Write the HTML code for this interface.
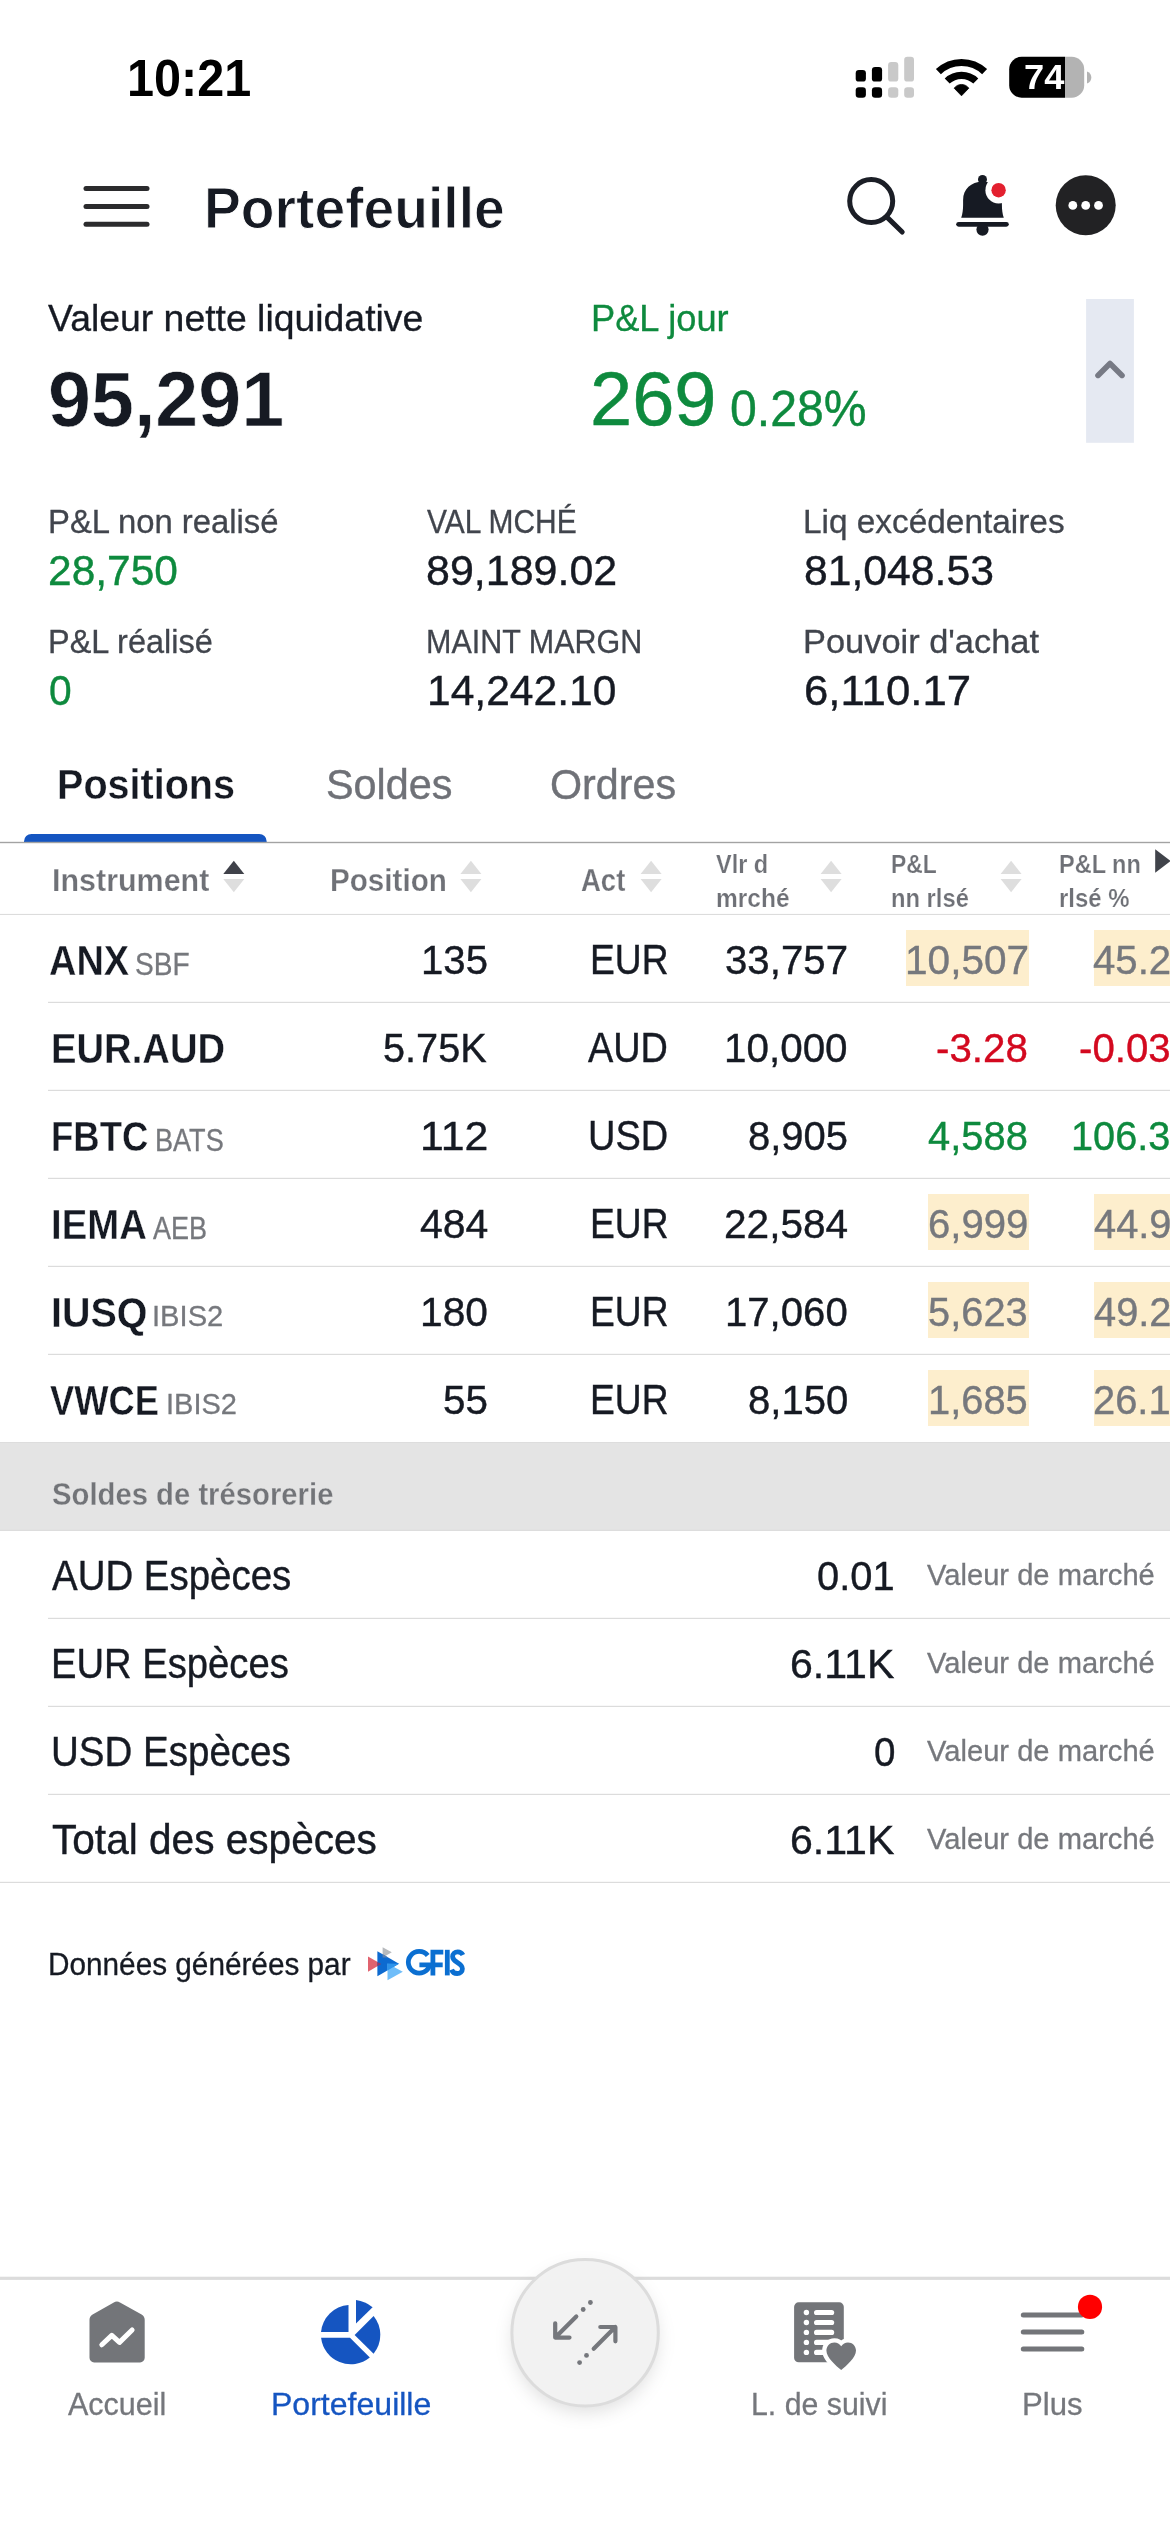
<!DOCTYPE html>
<html lang="fr">
<head>
<meta charset="utf-8">
<title>Portefeuille</title>
<style>
html,body{margin:0;padding:0;}
body{width:1170px;height:2532px;position:relative;overflow:hidden;background:#fff;font-family:"Liberation Sans",sans-serif;}
#g{position:absolute;left:0;top:0;width:1170px;height:2532px;}
.t{position:absolute;white-space:nowrap;line-height:1;transform-origin:0 0;display:block;}
.hl{position:absolute;background:#fdeecd;}
#clip{position:absolute;left:0;top:0;width:1170px;height:2532px;overflow:hidden;}
</style>
</head>
<body>
<div id="clip">
<div class="hl" style="left:906.2px;top:930.0px;width:122.6px;height:56.0px"></div>
<div class="hl" style="left:1093.7px;top:930.0px;width:76.3px;height:56.0px"></div>
<div class="hl" style="left:928.3px;top:1194.0px;width:100.5px;height:56.0px"></div>
<div class="hl" style="left:1093.7px;top:1194.0px;width:76.3px;height:56.0px"></div>
<div class="hl" style="left:928.3px;top:1282.0px;width:100.5px;height:56.0px"></div>
<div class="hl" style="left:1093.7px;top:1282.0px;width:76.3px;height:56.0px"></div>
<div class="hl" style="left:928.3px;top:1370.0px;width:100.5px;height:56.0px"></div>
<div class="hl" style="left:1093.7px;top:1370.0px;width:76.3px;height:56.0px"></div>
<svg id="g" width="1170" height="2532" viewBox="0 0 1170 2532">
  <!-- ===== status bar ===== -->
  <g id="signal">
    <rect x="855.7" y="70" width="10.2" height="11.6" rx="3.2" fill="#000"/>
    <rect x="871.9" y="67" width="10.2" height="14.6" rx="3.2" fill="#000"/>
    <rect x="888.1" y="62" width="10.2" height="19.6" rx="3.2" fill="#c9c9c9"/>
    <rect x="904.2" y="56.8" width="9.8" height="24.8" rx="3.2" fill="#c9c9c9"/>
    <rect x="855.7" y="87.3" width="10.2" height="10.4" rx="3.2" fill="#000"/>
    <rect x="871.9" y="87.3" width="10.2" height="10.4" rx="3.2" fill="#000"/>
    <rect x="888.1" y="87.3" width="10.2" height="10.4" rx="3.2" fill="#c9c9c9"/>
    <rect x="904.2" y="87.3" width="9.8" height="10.4" rx="3.2" fill="#c9c9c9"/>
  </g>
  <g id="wifi" fill="none" stroke="#000" stroke-width="7.2">
    <path d="M938.4 71.7 A33.6 33.6 0 0 1 984.6 71.7"/>
    <path d="M947.2 81 A20.8 20.8 0 0 1 975.8 81"/>
  </g>
  <path d="M961.5 95.8 L954.2 88.2 A9 9 0 0 1 968.8 88.2 Z" fill="#000" stroke="#000" stroke-width="0.8" stroke-linejoin="round"/>
  <g id="battery">
    <clipPath id="bc"><rect x="1009.2" y="56.8" width="75" height="40.9" rx="12.5"/></clipPath>
    <g clip-path="url(#bc)">
      <rect x="1009" y="56" width="56" height="43" fill="#000"/>
      <rect x="1065" y="56" width="20" height="43" fill="#b3b3b3"/>
    </g>
    <path d="M1087 71.4 C1090.2 72.4 1091.3 75 1091.3 77.4 C1091.3 79.8 1090.2 82.4 1087 83.4 Z" fill="#b3b3b3"/>
  </g>
  <!-- ===== header ===== -->
  <g stroke="#2b2b2d" stroke-width="5" stroke-linecap="round">
    <line x1="86" y1="188.6" x2="147" y2="188.6"/>
    <line x1="86" y1="206.5" x2="147" y2="206.5"/>
    <line x1="86" y1="224.2" x2="147" y2="224.2"/>
  </g>
  <g id="search" fill="none" stroke="#1b1e26" stroke-width="5" stroke-linecap="round">
    <circle cx="871.2" cy="201.1" r="21.5"/>
    <line x1="887.2" y1="217.4" x2="902.2" y2="232"/>
  </g>
  <g id="bell" fill="#161a23">
    <circle cx="982.5" cy="179.4" r="4.5"/>
    <path d="M961.2 217.8 C962.5 214 963.1 210 963.1 205 V200 C963.1 189 971 181.7 982.5 181.7 C994 181.7 1001.9 189 1001.9 200 V205 C1001.9 210 1002.5 214 1003.8 217.8 Z"/>
    <rect x="956.2" y="221.9" width="52.6" height="4.9" rx="2.45"/>
    <circle cx="982.5" cy="229.6" r="6.1"/>
  </g>
  <circle cx="998.6" cy="190.2" r="13.2" fill="#fff"/>
  <circle cx="998.6" cy="190.2" r="7.2" fill="#e3202f"/>
  <g id="more">
    <circle cx="1085.7" cy="205.3" r="30" fill="#222224"/>
    <circle cx="1072.8" cy="205.4" r="4.4" fill="#fff"/>
    <circle cx="1085.7" cy="205.4" r="4.4" fill="#fff"/>
    <circle cx="1098.5" cy="205.4" r="4.4" fill="#fff"/>
  </g>
  <!-- collapse -->
  <rect x="1086.1" y="299" width="47.8" height="143.8" fill="#e5e9f2"/>
  <path d="M1098 375.4 L1110 363.4 L1122 375.4" fill="none" stroke="#777a85" stroke-width="5.6" stroke-linecap="round" stroke-linejoin="round"/>
  <!-- ===== tabs ===== -->
  <path d="M24 842 V841.4 A7.5 7.5 0 0 1 31.5 833.9 H259.2 A7.5 7.5 0 0 1 266.7 841.4 V842 Z" fill="#1555c1"/>
  <rect x="0" y="841.8" width="1170" height="1.4" fill="#a3a3a3"/>
  <rect x="0" y="913.9" width="1170" height="1.1" fill="#dcdcdc"/>
  <!-- sort arrows -->
  <g id="sorts">
    <path d="M223.3 874 L233.8 860.7 L244.3 874 Z" fill="#40424a"/>
    <path d="M223.3 879 L233.8 892.3 L244.3 879 Z" fill="#dedede"/>
    <path d="M460.4 874 L470.9 860.7 L481.4 874 Z" fill="#dedede"/>
    <path d="M460.4 879 L470.9 892.3 L481.4 879 Z" fill="#dedede"/>
    <path d="M640.6 874 L651.1 860.7 L661.6 874 Z" fill="#dedede"/>
    <path d="M640.6 879 L651.1 892.3 L661.6 879 Z" fill="#dedede"/>
    <path d="M820.6 874 L831.1 860.7 L841.6 874 Z" fill="#dedede"/>
    <path d="M820.6 879 L831.1 892.3 L841.6 879 Z" fill="#dedede"/>
    <path d="M1000.6 874 L1011.1 860.7 L1021.6 874 Z" fill="#dedede"/>
    <path d="M1000.6 879 L1011.1 892.3 L1021.6 879 Z" fill="#dedede"/>
    <path d="M1155.2 849.2 L1170.6 861 L1155.2 872.8 Z" fill="#40434a"/>
  </g>
  <!-- row lines -->
  <g fill="#dcdcdc">
    <rect x="48" y="1001.8" width="1122" height="1.2"/>
    <rect x="48" y="1089.8" width="1122" height="1.2"/>
    <rect x="48" y="1177.8" width="1122" height="1.2"/>
    <rect x="48" y="1265.8" width="1122" height="1.2"/>
    <rect x="48" y="1353.8" width="1122" height="1.2"/>
  </g>
  <!-- cash section -->
  <rect x="0" y="1442" width="1170" height="88.6" fill="#e4e4e4"/>
  <rect x="0" y="1442" width="1170" height="1" fill="#dddddd"/>
  <rect x="0" y="1529.8" width="1170" height="1" fill="#d9d9d9"/>
  <g fill="#dcdcdc">
    <rect x="48" y="1617.8" width="1122" height="1.2"/>
    <rect x="48" y="1705.8" width="1122" height="1.2"/>
    <rect x="48" y="1793.8" width="1122" height="1.2"/>
    <rect x="0" y="1881.8" width="1170" height="1.2"/>
  </g>
  <!-- GFIS logo -->
  <g id="gfis">
    <path d="M382.6 1947.3 L391.8 1952.3 L382.6 1957.4 Z" fill="#b7babd"/>
    <path d="M368 1956.5 L381.2 1964.1 L368 1971.8 Z" fill="#e0636f"/>
    <path d="M377.4 1951.3 L399 1963.7 L377.4 1976.2 Z" fill="#0d6ad0"/>
    <path d="M377.4 1961.9 L381.2 1964.1 L377.4 1966.3 Z" fill="#8a3a6c"/>
    <path d="M382.6 1954.3 L388.2 1957.5 L382.6 1957.4 Z" fill="#5a7fae"/>
    <path d="M387.5 1963.5 L402.8 1971.8 L387.5 1980.2 Z" fill="#6fbdf9"/>
    <path d="M387.5 1963.6 L399 1963.7 L387.5 1970.4 Z" fill="#2f93ea"/>
    <g fill="none" stroke="#0b6fd1" stroke-width="4.8">
      <path d="M427.7 1955.6 A10.85 10.85 0 1 0 429.7 1964.9 H419.4"/>
      <path d="M432.9 1975.4 V1952.1 H443.3 M432.9 1964.8 H442.7"/>
      <path d="M447.3 1949.8 V1975.4"/>
      <path d="M462.9 1955 C461.8 1952.8 459.9 1951.8 457.7 1951.8 C454.7 1951.8 452.6 1953.8 452.6 1956.5 C452.6 1959 454.2 1960.6 457.2 1962.4 C460.6 1964.4 462.4 1966 462.4 1968.8 C462.4 1971.7 460.2 1973.5 457.2 1973.5 C454.5 1973.5 452.5 1972.2 451.6 1969.6"/>
    </g>
  </g>
  <!-- ===== bottom nav ===== -->
  <rect x="0" y="2276.7" width="1170" height="3.2" fill="#dcdcdc"/>
  <!-- accueil -->
  <path d="M116.9 2301.6 C118 2301.6 119 2301.9 120 2302.5 L141.6 2314.6 C143.6 2315.8 144.7 2317.6 144.7 2319.8 V2357.8 A4.6 4.6 0 0 1 140.1 2362.4 H94.1 A4.6 4.6 0 0 1 89.5 2357.8 V2319.8 C89.5 2317.6 90.6 2315.8 92.6 2314.6 L113.8 2302.5 C114.8 2301.9 115.8 2301.6 116.9 2301.6 Z" fill="#737579"/>
  <path d="M101.8 2344.8 L111.8 2335.4 L119.5 2342.4 L132.1 2330" fill="none" stroke="#fff" stroke-width="5" stroke-linecap="round" stroke-linejoin="round"/>
  <!-- pie -->
  <g fill="#1555c1">
    <path d="M321 2332.1 A30 30 0 0 1 348.5 2304.9 V2332.1 Z"/>
    <path d="M356 2323.6 V2300 A32 32 0 0 1 372.6 2307.2 Z"/>
    <path d="M354.6 2334.9 L373.6 2315.9 A30 30 0 0 1 373.6 2353.7 Z"/>
    <path d="M321.1 2337.7 H350 L369.8 2357.6 A30 30 0 0 1 321.1 2337.7 Z"/>
  </g>
  <!-- center button -->
  <defs>
    <filter id="sh" x="-30%" y="-30%" width="160%" height="170%"><feGaussianBlur stdDeviation="9"/></filter>
  </defs>
  <circle cx="585.1" cy="2340" r="72" fill="#000" fill-opacity="0.13" filter="url(#sh)"/>
  <circle cx="585.1" cy="2332.8" r="73.2" fill="#f2f2f2" stroke="#dcdcdc" stroke-width="3"/>
  <g fill="none" stroke="#75777c" stroke-width="4.2" stroke-linecap="round" stroke-linejoin="round">
    <path d="M576.3 2316.4 L555.3 2337.5 M555.2 2323.3 V2337.6 H569.5"/>
    <path d="M593.7 2348.7 L615.3 2327.1 M600.3 2327 H615.4 V2341.3"/>
  </g>
  <g fill="#75777c">
    <circle cx="583.2" cy="2309.5" r="2.4"/><circle cx="590.4" cy="2302.5" r="2.4"/>
    <circle cx="586.5" cy="2355.4" r="2.4"/><circle cx="579.6" cy="2362.6" r="2.4"/>
  </g>
  <!-- watchlist -->
  <rect x="794.1" y="2302.3" width="49.7" height="60" rx="4.6" fill="#737579"/>
  <g fill="#fff">
    <circle cx="806.4" cy="2312.5" r="2.7"/><circle cx="806.4" cy="2322.5" r="2.7"/><circle cx="806.4" cy="2332.4" r="2.7"/><circle cx="806.4" cy="2342.4" r="2.7"/><circle cx="806.4" cy="2352.4" r="2.7"/>
    <rect x="814" y="2309.9" width="20.2" height="5.2" rx="2.6"/>
    <rect x="814" y="2319.9" width="20.2" height="5.2" rx="2.6"/>
    <rect x="814" y="2329.8" width="20.2" height="5.2" rx="2.6"/>
    <rect x="814" y="2339.8" width="20.2" height="5.2" rx="2.6"/>
    <rect x="814" y="2349.8" width="20.2" height="5.2" rx="2.6"/>
  </g>
  <path id="heart" d="M841.2 2370 C836 2366 826.4 2357.6 826.4 2350.6 C826.4 2345.8 830 2342.4 834.4 2342.4 C837.2 2342.4 839.6 2343.8 841.2 2346.2 C842.8 2343.8 845.2 2342.4 848 2342.4 C852.4 2342.4 856 2345.8 856 2350.6 C856 2357.6 846.4 2366 841.2 2370 Z" fill="#737579" stroke="#fff" stroke-width="8.5" paint-order="stroke" stroke-linejoin="round"/>
  <!-- plus -->
  <g stroke="#737579" stroke-width="5" stroke-linecap="round">
    <line x1="1023.3" y1="2314.9" x2="1081.8" y2="2314.9"/>
    <line x1="1023.3" y1="2332" x2="1081.8" y2="2332"/>
    <line x1="1023.3" y1="2349" x2="1081.8" y2="2349"/>
  </g>
  <circle cx="1090" cy="2306.9" r="12.1" fill="#ff0000"/>
</svg>
<span class="t" style="left:126.87px;top:52.72px;font-size:51.69px;font-weight:700;color:#000;transform:scaleX(0.9396)">10:21</span>
<span class="t" style="left:1023.85px;top:59.80px;font-size:34.79px;font-weight:700;color:#fff;transform:scaleX(1.0417)">74</span>
<span class="t" style="left:204.40px;top:179.20px;font-size:58.00px;font-weight:700;color:#161a23;-webkit-text-stroke:1.00px #fff;transform:scaleX(0.9520)">Portefeuille</span>
<span class="t" style="left:48.34px;top:300.79px;font-size:36.81px;font-weight:400;color:#161a23;-webkit-text-stroke:0.30px #161a23;transform:scaleX(1.0155)">Valeur nette liquidative</span>
<span class="t" style="left:48.40px;top:359.67px;font-size:78.03px;font-weight:700;color:#161a23;-webkit-text-stroke:0.60px #fff;transform:scaleX(0.9899)">95,291</span>
<span class="t" style="left:590.98px;top:300.79px;font-size:36.81px;font-weight:400;color:#0e8a3e;-webkit-text-stroke:0.30px #0e8a3e;transform:scaleX(0.9851)">P&amp;L jour</span>
<span class="t" style="left:589.91px;top:360.92px;font-size:76.34px;font-weight:400;color:#0e8a3e;-webkit-text-stroke:0.50px #0e8a3e;transform:scaleX(0.9931)">269</span>
<span class="t" style="left:729.75px;top:384.47px;font-size:49.44px;font-weight:400;color:#0e8a3e;-webkit-text-stroke:0.40px #0e8a3e;transform:scaleX(0.9749)">0.28%</span>
<span class="t" style="left:47.83px;top:505.67px;font-size:32.46px;font-weight:400;color:#41454d;-webkit-text-stroke:0.30px #41454d;transform:scaleX(1.0113)">P&amp;L non realisé</span>
<span class="t" style="left:48.22px;top:549.04px;font-size:43.38px;font-weight:400;color:#0e8a3e;-webkit-text-stroke:0.40px #0e8a3e;transform:scaleX(0.9796)">28,750</span>
<span class="t" style="left:47.73px;top:625.50px;font-size:32.61px;font-weight:400;color:#41454d;-webkit-text-stroke:0.30px #41454d;transform:scaleX(0.9948)">P&amp;L réalisé</span>
<span class="t" style="left:48.78px;top:669.04px;font-size:43.38px;font-weight:400;color:#0e8a3e;-webkit-text-stroke:0.40px #0e8a3e;transform:scaleX(0.9409)">0</span>
<span class="t" style="left:426.77px;top:505.67px;font-size:32.46px;font-weight:400;color:#41454d;-webkit-text-stroke:0.30px #41454d;transform:scaleX(0.9224)">VAL MCHÉ</span>
<span class="t" style="left:425.83px;top:549.04px;font-size:43.38px;font-weight:400;color:#161a23;-webkit-text-stroke:0.40px #161a23;transform:scaleX(0.9910)">89,189.02</span>
<span class="t" style="left:425.64px;top:625.50px;font-size:32.61px;font-weight:400;color:#41454d;-webkit-text-stroke:0.30px #41454d;transform:scaleX(0.9348)">MAINT MARGN</span>
<span class="t" style="left:427.25px;top:669.04px;font-size:43.38px;font-weight:400;color:#161a23;-webkit-text-stroke:0.40px #161a23;transform:scaleX(0.9815)">14,242.10</span>
<span class="t" style="left:803.33px;top:505.67px;font-size:32.46px;font-weight:400;color:#41454d;-webkit-text-stroke:0.30px #41454d;transform:scaleX(1.0283)">Liq excédentaires</span>
<span class="t" style="left:804.29px;top:549.04px;font-size:43.38px;font-weight:400;color:#161a23;-webkit-text-stroke:0.40px #161a23;transform:scaleX(0.9843)">81,048.53</span>
<span class="t" style="left:803.25px;top:625.50px;font-size:32.61px;font-weight:400;color:#41454d;-webkit-text-stroke:0.30px #41454d;transform:scaleX(1.0546)">Pouvoir d&#x27;achat</span>
<span class="t" style="left:803.92px;top:669.04px;font-size:43.38px;font-weight:400;color:#161a23;-webkit-text-stroke:0.40px #161a23;transform:scaleX(1.0092)">6,110.17</span>
<span class="t" style="left:56.85px;top:762.57px;font-size:42.80px;font-weight:700;color:#161a23;-webkit-text-stroke:0.36px #fff;transform:scaleX(0.9243)">Positions</span>
<span class="t" style="left:325.92px;top:763.68px;font-size:42.32px;font-weight:400;color:#6f7177;-webkit-text-stroke:0.40px #6f7177;transform:scaleX(0.9771)">Soldes</span>
<span class="t" style="left:550.05px;top:763.68px;font-size:42.32px;font-weight:400;color:#6f7177;-webkit-text-stroke:0.40px #6f7177;transform:scaleX(0.9757)">Ordres</span>
<span class="t" style="left:51.57px;top:864.98px;font-size:30.50px;font-weight:700;color:#6f7177;-webkit-text-stroke:0.25px #fff;transform:scaleX(0.9983)">Instrument</span>
<span class="t" style="left:329.92px;top:864.98px;font-size:30.50px;font-weight:700;color:#6f7177;-webkit-text-stroke:0.25px #fff;transform:scaleX(0.9716)">Position</span>
<span class="t" style="left:580.62px;top:864.98px;font-size:30.50px;font-weight:700;color:#6f7177;-webkit-text-stroke:0.25px #fff;transform:scaleX(0.9017)">Act</span>
<span class="t" style="left:716.09px;top:852.09px;font-size:25.59px;font-weight:700;color:#6f7177;-webkit-text-stroke:0.21px #fff;transform:scaleX(0.9167)">Vlr d</span>
<span class="t" style="left:716.10px;top:886.09px;font-size:25.59px;font-weight:700;color:#6f7177;-webkit-text-stroke:0.21px #fff;transform:scaleX(0.9580)">mrché</span>
<span class="t" style="left:890.93px;top:852.09px;font-size:25.59px;font-weight:700;color:#6f7177;-webkit-text-stroke:0.21px #fff;transform:scaleX(0.8940)">P&amp;L</span>
<span class="t" style="left:890.79px;top:886.09px;font-size:25.59px;font-weight:700;color:#6f7177;-webkit-text-stroke:0.21px #fff;transform:scaleX(0.9285)">nn rlsé</span>
<span class="t" style="left:1058.70px;top:852.09px;font-size:25.59px;font-weight:700;color:#6f7177;-webkit-text-stroke:0.21px #fff;transform:scaleX(0.9185)">P&amp;L nn</span>
<span class="t" style="left:1059.06px;top:886.09px;font-size:25.59px;font-weight:700;color:#6f7177;-webkit-text-stroke:0.21px #fff;transform:scaleX(0.9358)">rlsé %</span>
<span class="t" style="left:49.40px;top:939.97px;font-size:42.21px;font-weight:700;color:#161a23;-webkit-text-stroke:0.35px #fff;transform:scaleX(0.8997)">ANX</span>
<span class="t" style="left:135.27px;top:948.74px;font-size:30.43px;font-weight:400;color:#76787d;-webkit-text-stroke:0.30px #76787d;transform:scaleX(0.9236)">SBF</span>
<span class="t" style="left:420.51px;top:938.73px;font-size:41.55px;font-weight:400;color:#161a23;-webkit-text-stroke:0.40px #161a23;transform:scaleX(0.9665)">135</span>
<span class="t" style="left:590.32px;top:938.99px;font-size:41.59px;font-weight:400;color:#161a23;-webkit-text-stroke:0.40px #161a23;transform:scaleX(0.8944)">EUR</span>
<span class="t" style="left:725.49px;top:939.01px;font-size:41.55px;font-weight:400;color:#161a23;-webkit-text-stroke:0.40px #161a23;transform:scaleX(0.9681)">33,757</span>
<span class="t" style="left:904.74px;top:939.01px;font-size:41.55px;font-weight:400;color:#76787d;-webkit-text-stroke:0.40px #76787d;transform:scaleX(0.9768)">10,507</span>
<span class="t" style="left:1093.10px;top:939.01px;font-size:41.55px;font-weight:400;color:#76787d;-webkit-text-stroke:0.40px #76787d;transform:scaleX(0.9665)">45.2</span>
<span class="t" style="left:50.60px;top:1027.97px;font-size:42.21px;font-weight:700;color:#161a23;-webkit-text-stroke:0.35px #fff;transform:scaleX(0.9055)">EUR.AUD</span>
<span class="t" style="left:383.29px;top:1027.01px;font-size:41.55px;font-weight:400;color:#161a23;-webkit-text-stroke:0.40px #161a23;transform:scaleX(0.9549)">5.75K</span>
<span class="t" style="left:588.30px;top:1026.99px;font-size:41.59px;font-weight:400;color:#161a23;-webkit-text-stroke:0.40px #161a23;transform:scaleX(0.9109)">AUD</span>
<span class="t" style="left:724.47px;top:1026.73px;font-size:41.55px;font-weight:400;color:#161a23;-webkit-text-stroke:0.40px #161a23;transform:scaleX(0.9725)">10,000</span>
<span class="t" style="left:936.19px;top:1027.01px;font-size:41.55px;font-weight:400;color:#d3091f;-webkit-text-stroke:0.40px #d3091f;transform:scaleX(0.9701)">-3.28</span>
<span class="t" style="left:1078.99px;top:1027.01px;font-size:41.55px;font-weight:400;color:#d3091f;-webkit-text-stroke:0.40px #d3091f;transform:scaleX(0.9679)">-0.03</span>
<span class="t" style="left:50.88px;top:1115.97px;font-size:42.21px;font-weight:700;color:#161a23;-webkit-text-stroke:0.35px #fff;transform:scaleX(0.8644)">FBTC</span>
<span class="t" style="left:154.90px;top:1124.74px;font-size:30.43px;font-weight:400;color:#76787d;-webkit-text-stroke:0.30px #76787d;transform:scaleX(0.8903)">BATS</span>
<span class="t" style="left:419.73px;top:1115.01px;font-size:41.55px;font-weight:400;color:#161a23;-webkit-text-stroke:0.40px #161a23;transform:scaleX(1.0304)">112</span>
<span class="t" style="left:587.84px;top:1114.99px;font-size:41.59px;font-weight:400;color:#161a23;-webkit-text-stroke:0.40px #161a23;transform:scaleX(0.9128)">USD</span>
<span class="t" style="left:747.82px;top:1115.01px;font-size:41.55px;font-weight:400;color:#161a23;-webkit-text-stroke:0.40px #161a23;transform:scaleX(0.9616)">8,905</span>
<span class="t" style="left:928.20px;top:1115.01px;font-size:41.55px;font-weight:400;color:#0e8a3e;-webkit-text-stroke:0.40px #0e8a3e;transform:scaleX(0.9602)">4,588</span>
<span class="t" style="left:1071.29px;top:1115.01px;font-size:41.55px;font-weight:400;color:#0e8a3e;-webkit-text-stroke:0.40px #0e8a3e;transform:scaleX(0.9549)">106.3</span>
<span class="t" style="left:50.98px;top:1203.97px;font-size:42.21px;font-weight:700;color:#161a23;-webkit-text-stroke:0.35px #fff;transform:scaleX(0.9082)">IEMA</span>
<span class="t" style="left:152.88px;top:1212.74px;font-size:30.43px;font-weight:400;color:#76787d;-webkit-text-stroke:0.30px #76787d;transform:scaleX(0.8876)">AEB</span>
<span class="t" style="left:420.18px;top:1203.01px;font-size:41.55px;font-weight:400;color:#161a23;-webkit-text-stroke:0.40px #161a23;transform:scaleX(0.9866)">484</span>
<span class="t" style="left:590.32px;top:1202.99px;font-size:41.59px;font-weight:400;color:#161a23;-webkit-text-stroke:0.40px #161a23;transform:scaleX(0.8944)">EUR</span>
<span class="t" style="left:723.90px;top:1203.01px;font-size:41.55px;font-weight:400;color:#161a23;-webkit-text-stroke:0.40px #161a23;transform:scaleX(0.9771)">22,584</span>
<span class="t" style="left:928.02px;top:1202.67px;font-size:41.55px;font-weight:400;color:#76787d;-webkit-text-stroke:0.40px #76787d;transform:scaleX(0.9655)">6,999</span>
<span class="t" style="left:1094.01px;top:1203.01px;font-size:41.55px;font-weight:400;color:#76787d;-webkit-text-stroke:0.40px #76787d;transform:scaleX(0.9578)">44.9</span>
<span class="t" style="left:50.88px;top:1291.97px;font-size:42.21px;font-weight:700;color:#161a23;-webkit-text-stroke:0.35px #fff;transform:scaleX(0.9344)">IUSQ</span>
<span class="t" style="left:152.38px;top:1300.88px;font-size:29.58px;font-weight:400;color:#76787d;-webkit-text-stroke:0.30px #76787d;transform:scaleX(0.9852)">IBIS2</span>
<span class="t" style="left:420.25px;top:1291.01px;font-size:41.55px;font-weight:400;color:#161a23;-webkit-text-stroke:0.40px #161a23;transform:scaleX(0.9798)">180</span>
<span class="t" style="left:590.32px;top:1290.99px;font-size:41.59px;font-weight:400;color:#161a23;-webkit-text-stroke:0.40px #161a23;transform:scaleX(0.8944)">EUR</span>
<span class="t" style="left:725.20px;top:1291.01px;font-size:41.55px;font-weight:400;color:#161a23;-webkit-text-stroke:0.40px #161a23;transform:scaleX(0.9656)">17,060</span>
<span class="t" style="left:928.01px;top:1290.70px;font-size:41.55px;font-weight:400;color:#76787d;-webkit-text-stroke:0.40px #76787d;transform:scaleX(0.9592)">5,623</span>
<span class="t" style="left:1094.01px;top:1291.01px;font-size:41.55px;font-weight:400;color:#76787d;-webkit-text-stroke:0.40px #76787d;transform:scaleX(0.9587)">49.2</span>
<span class="t" style="left:49.72px;top:1379.97px;font-size:42.21px;font-weight:700;color:#161a23;-webkit-text-stroke:0.35px #fff;transform:scaleX(0.8600)">VWCE</span>
<span class="t" style="left:166.39px;top:1389.17px;font-size:29.58px;font-weight:400;color:#76787d;-webkit-text-stroke:0.30px #76787d;transform:scaleX(0.9808)">IBIS2</span>
<span class="t" style="left:443.18px;top:1378.72px;font-size:41.55px;font-weight:400;color:#161a23;-webkit-text-stroke:0.40px #161a23;transform:scaleX(0.9733)">55</span>
<span class="t" style="left:590.32px;top:1378.99px;font-size:41.59px;font-weight:400;color:#161a23;-webkit-text-stroke:0.40px #161a23;transform:scaleX(0.8944)">EUR</span>
<span class="t" style="left:747.60px;top:1379.01px;font-size:41.55px;font-weight:400;color:#161a23;-webkit-text-stroke:0.40px #161a23;transform:scaleX(0.9652)">8,150</span>
<span class="t" style="left:928.01px;top:1379.01px;font-size:41.55px;font-weight:400;color:#76787d;-webkit-text-stroke:0.40px #76787d;transform:scaleX(0.9592)">1,685</span>
<span class="t" style="left:1092.96px;top:1379.01px;font-size:41.55px;font-weight:400;color:#76787d;-webkit-text-stroke:0.40px #76787d;transform:scaleX(0.9601)">26.1</span>
<span class="t" style="left:51.71px;top:1479.22px;font-size:31.51px;font-weight:700;color:#727478;-webkit-text-stroke:0.26px #e4e4e4;transform:scaleX(0.9291)">Soldes de trésorerie</span>
<span class="t" style="left:51.70px;top:1555.00px;font-size:42.17px;font-weight:400;color:#161a23;-webkit-text-stroke:0.40px #161a23;transform:scaleX(0.9121)">AUD Espèces</span>
<span class="t" style="left:817.30px;top:1555.73px;font-size:41.41px;font-weight:400;color:#161a23;-webkit-text-stroke:0.40px #161a23;transform:scaleX(0.9633)">0.01</span>
<span class="t" style="left:926.93px;top:1560.37px;font-size:29.28px;font-weight:400;color:#76787d;-webkit-text-stroke:0.30px #76787d;transform:scaleX(0.9956)">Valeur de marché</span>
<span class="t" style="left:50.94px;top:1643.00px;font-size:42.17px;font-weight:400;color:#161a23;-webkit-text-stroke:0.40px #161a23;transform:scaleX(0.9062)">EUR Espèces</span>
<span class="t" style="left:790.15px;top:1643.73px;font-size:41.41px;font-weight:400;color:#161a23;-webkit-text-stroke:0.40px #161a23;transform:scaleX(0.9924)">6.11K</span>
<span class="t" style="left:926.93px;top:1648.37px;font-size:29.28px;font-weight:400;color:#76787d;-webkit-text-stroke:0.30px #76787d;transform:scaleX(0.9956)">Valeur de marché</span>
<span class="t" style="left:50.60px;top:1731.00px;font-size:42.17px;font-weight:400;color:#161a23;-webkit-text-stroke:0.40px #161a23;transform:scaleX(0.9137)">USD Espèces</span>
<span class="t" style="left:873.74px;top:1731.73px;font-size:41.41px;font-weight:400;color:#161a23;-webkit-text-stroke:0.40px #161a23;transform:scaleX(0.9315)">0</span>
<span class="t" style="left:926.93px;top:1736.37px;font-size:29.28px;font-weight:400;color:#76787d;-webkit-text-stroke:0.30px #76787d;transform:scaleX(0.9956)">Valeur de marché</span>
<span class="t" style="left:51.89px;top:1819.00px;font-size:42.17px;font-weight:400;color:#161a23;-webkit-text-stroke:0.40px #161a23;transform:scaleX(0.9628)">Total des espèces</span>
<span class="t" style="left:790.15px;top:1819.73px;font-size:41.41px;font-weight:400;color:#161a23;-webkit-text-stroke:0.40px #161a23;transform:scaleX(0.9924)">6.11K</span>
<span class="t" style="left:926.93px;top:1824.37px;font-size:29.28px;font-weight:400;color:#76787d;-webkit-text-stroke:0.30px #76787d;transform:scaleX(0.9956)">Valeur de marché</span>
<span class="t" style="left:48.42px;top:1949.87px;font-size:30.87px;font-weight:400;color:#161a23;-webkit-text-stroke:0.30px #161a23;transform:scaleX(0.9637)">Données générées par</span>
<span class="t" style="left:68.30px;top:2388.52px;font-size:31.16px;font-weight:400;color:#75777c;-webkit-text-stroke:0.30px #75777c;transform:scaleX(0.9786)">Accueil</span>
<span class="t" style="left:271.07px;top:2388.52px;font-size:31.16px;font-weight:400;color:#1555c1;-webkit-text-stroke:0.30px #1555c1;transform:scaleX(1.0285)">Portefeuille</span>
<span class="t" style="left:751.01px;top:2388.52px;font-size:31.16px;font-weight:400;color:#75777c;-webkit-text-stroke:0.30px #75777c;transform:scaleX(0.9721)">L. de suivi</span>
<span class="t" style="left:1022.11px;top:2388.52px;font-size:31.16px;font-weight:400;color:#75777c;-webkit-text-stroke:0.30px #75777c;transform:scaleX(0.9985)">Plus</span>

</div>
</body>
</html>
